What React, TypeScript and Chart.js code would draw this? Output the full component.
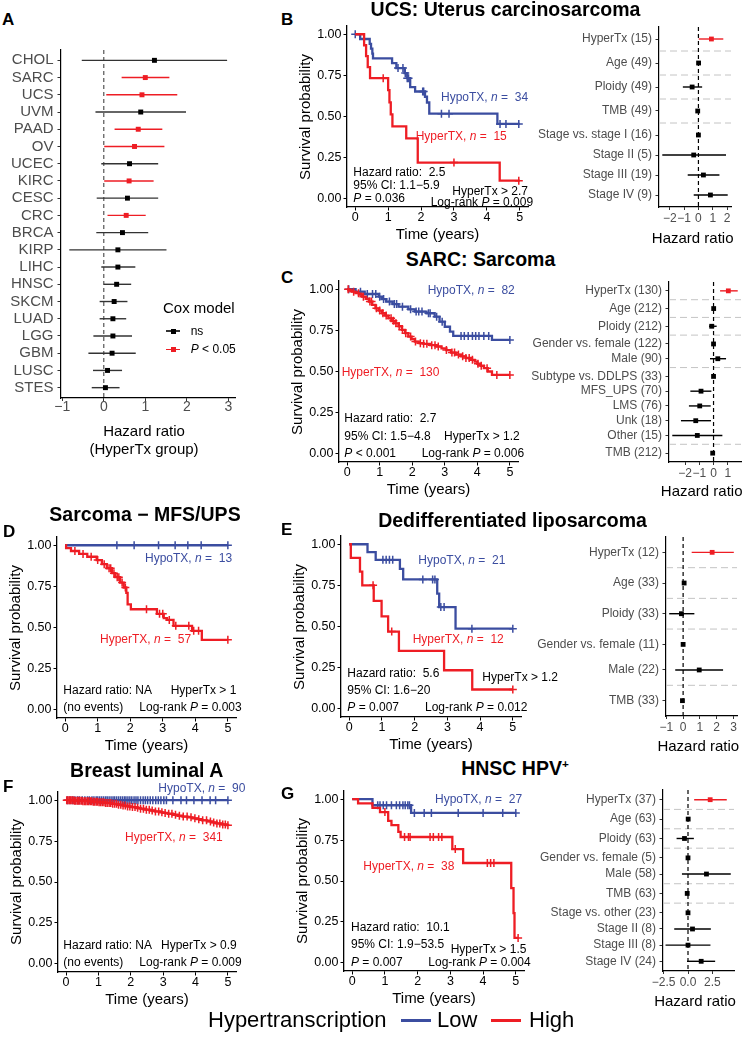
import React, { useEffect, useRef } from "react";
import { Chart, registerables } from "chart.js";

Chart.register(...registerables);

const FONT = "'Liberation Sans', Arial, Helvetica, sans-serif";
const RED = "#EE1D24";
const BLUE = "#3B4DA0";
const AX_TXT = "#4D4D4D";

// ================= Panel A: Cox model per cancer =================
const coxCancers = ["CHOL", "SARC", "UCS", "UVM", "PAAD", "OV", "UCEC", "KIRC", "CESC", "CRC", "BRCA", "KIRP", "LIHC", "HNSC", "SKCM", "LUAD", "LGG", "GBM", "LUSC", "STES"];
const coxHR = [1.22, 1.0, 0.92, 0.89, 0.83, 0.74, 0.62, 0.61, 0.57, 0.54, 0.45, 0.34, 0.34, 0.31, 0.25, 0.22, 0.22, 0.2, 0.09, 0.04];
const coxLow = [-0.53, 0.43, 0.06, -0.2, 0.26, 0.01, -0.06, 0.01, -0.17, 0.09, -0.18, -0.83, -0.06, 0.0, -0.1, -0.1, -0.25, -0.37, -0.26, -0.29];
const coxHigh = [2.97, 1.58, 1.77, 1.98, 1.41, 1.46, 1.31, 1.2, 1.31, 1.01, 1.07, 1.51, 0.76, 0.66, 0.57, 0.54, 0.68, 0.77, 0.44, 0.38];
const coxSignificant = [false, true, true, false, true, true, false, true, false, true, false, false, false, false, false, false, false, false, false, false];
const coxTicks = [-1, 0, 1, 2, 3];

// ================= KM common =================
const kmTimeTicks = [0, 1, 2, 3, 4, 5];
const kmSurvTicks = [0, 0.25, 0.5, 0.75, 1];

// B: UCS
const ucsHypoTime = [0, 0.15, 0.44, 0.48, 0.52, 0.54, 1.12, 1.25, 1.5, 1.58, 1.67, 1.82, 2.12, 2.18, 2.25, 4.32, 5.0];
const ucsHypoSurv = [1, 0.971, 0.941, 0.912, 0.882, 0.853, 0.824, 0.794, 0.764, 0.733, 0.679, 0.652, 0.62, 0.585, 0.517, 0.455, 0.455];
const ucsHypoCensor = [0, 1.3, 1.45, 1.52, 1.58, 1.62, 2.05, 2.08, 2.62, 2.85, 4.4, 4.58, 4.97];
const ucsHyperTime = [0, 0.27, 0.33, 0.38, 0.45, 1.0, 1.04, 1.08, 1.13, 1.55, 1.9, 4.39, 5.0];
const ucsHyperSurv = [1, 0.933, 0.867, 0.8, 0.733, 0.66, 0.586, 0.513, 0.44, 0.367, 0.22, 0.11, 0.11];
const ucsHyperCensor = [0.85, 3.0, 4.97];

// C: SARC
const sarcHypoTime = [0, 0.26, 0.54, 0.97, 1.07, 1.2, 1.4, 1.58, 1.88, 2.08, 2.44, 2.69, 2.84, 3.0, 3.16, 3.26, 4.45, 5.0];
const sarcHypoSurv = [1, 0.985, 0.971, 0.955, 0.94, 0.925, 0.91, 0.894, 0.878, 0.864, 0.854, 0.833, 0.803, 0.772, 0.742, 0.716, 0.692, 0.692];
const sarcHypoCensor = [0.05, 0.41, 0.62, 0.78, 0.88, 1.0, 1.12, 1.3, 1.45, 1.52, 1.7, 1.95, 2.12, 2.2, 2.3, 2.5, 2.55, 2.75, 2.92, 3.5, 3.6, 3.72, 3.85, 3.95, 4.05, 4.2, 4.35, 5.0];
const sarcHyperTime = [0, 0.05, 0.15, 0.26, 0.36, 0.46, 0.57, 0.67, 0.77, 0.87, 0.97, 1.07, 1.17, 1.27, 1.37, 1.48, 1.58, 1.68, 1.78, 1.88, 1.98, 2.08, 2.2, 2.35, 2.55, 2.75, 2.9, 3.05, 3.19, 3.35, 3.5, 3.65, 3.8, 3.92, 4.0, 4.1, 4.2, 4.32, 4.45, 5.0];
const sarcHyperSurv = [1, 0.992, 0.985, 0.976, 0.968, 0.955, 0.942, 0.925, 0.905, 0.884, 0.87, 0.854, 0.84, 0.823, 0.808, 0.793, 0.775, 0.753, 0.733, 0.712, 0.697, 0.682, 0.672, 0.668, 0.66, 0.652, 0.641, 0.63, 0.615, 0.603, 0.592, 0.582, 0.571, 0.56, 0.547, 0.535, 0.52, 0.5, 0.479, 0.479];
const sarcHyperCensor = [0.03, 0.2, 0.35, 0.5, 0.7, 0.75, 0.9, 1.0, 1.1, 1.2, 1.35, 1.42, 1.5, 1.6, 1.7, 1.8, 1.95, 2.1, 2.25, 2.35, 2.45, 2.6, 2.7, 2.8, 3.05, 3.22, 3.3, 3.42, 3.55, 3.65, 3.75, 3.85, 4.02, 4.12, 4.3, 4.6, 5.0];

// D: Sarcoma MFS/UPS
const mfsHypoTime = [0, 5.0];
const mfsHypoSurv = [1, 1];
const mfsHypoCensor = [1.59, 2.12, 2.87, 3.38, 3.77, 4.18, 5.0];
const mfsHyperTime = [0, 0.03, 0.18, 0.43, 0.68, 0.97, 1.13, 1.28, 1.44, 1.54, 1.69, 1.8, 1.88, 1.92, 2.02, 2.82, 3.03, 3.13, 3.33, 3.9, 4.2, 5.0];
const mfsHyperSurv = [1, 0.982, 0.965, 0.947, 0.93, 0.91, 0.885, 0.86, 0.83, 0.806, 0.773, 0.743, 0.71, 0.64, 0.611, 0.583, 0.557, 0.546, 0.51, 0.48, 0.425, 0.425];
const mfsHyperCensor = [0.3, 0.55, 0.8, 1.0, 1.2, 1.35, 1.4, 1.5, 1.6, 1.65, 1.75, 1.85, 2.5, 2.9, 3.0, 3.2, 3.4, 3.8, 3.95, 4.1, 5.0];

// E: Dedifferentiated liposarcoma
const ddlpsHypoTime = [0, 0.56, 0.81, 1.55, 1.65, 2.69, 2.75, 3.25, 5.0];
const ddlpsHypoSurv = [1, 0.952, 0.905, 0.85, 0.786, 0.7, 0.618, 0.487, 0.487];
const ddlpsHypoCensor = [1.03, 1.13, 1.23, 1.33, 2.25, 2.55, 2.62, 2.8, 2.9, 3.75, 5.0];
const ddlpsHyperTime = [0, 0.05, 0.33, 0.4, 0.75, 0.99, 1.19, 1.52, 2.9, 3.76, 5.0];
const ddlpsHyperSurv = [1, 0.917, 0.833, 0.75, 0.656, 0.562, 0.469, 0.352, 0.234, 0.117, 0.117];
const ddlpsHyperCensor = [0.73, 1.3, 5.0];

// F: Breast luminal A
const lumaHypoTime = [0, 5.0];
const lumaHypoSurv = [1, 1];
const lumaHypoCensor = [0.04, 0.12, 0.2, 0.27, 0.35, 0.41, 0.5, 0.58, 0.66, 0.72, 0.8, 0.86, 0.93, 0.98, 1.04, 1.1, 1.16, 1.22, 1.27, 1.33, 1.39, 1.45, 1.5, 1.56, 1.62, 1.68, 1.74, 1.8, 1.85, 1.91, 1.97, 2.03, 2.1, 2.16, 2.22, 2.3, 2.38, 2.45, 2.52, 2.6, 2.68, 2.77, 2.85, 2.93, 3.02, 3.1, 3.3, 3.55, 3.72, 3.95, 4.2, 4.45, 4.62, 5.0];
const lumaHyperTime = [0, 0.25, 0.5, 0.8, 1.0, 1.2, 1.4, 1.6, 1.75, 1.9, 2.0, 2.15, 2.3, 2.45, 2.6, 2.75, 2.9, 3.0, 3.15, 3.3, 3.45, 3.6, 3.75, 3.9, 4.05, 4.2, 4.35, 4.5, 4.65, 4.8, 4.95, 5.0];
const lumaHyperSurv = [1, 0.997, 0.994, 0.99, 0.987, 0.983, 0.978, 0.972, 0.967, 0.962, 0.958, 0.953, 0.948, 0.942, 0.937, 0.931, 0.926, 0.922, 0.917, 0.911, 0.905, 0.9, 0.895, 0.889, 0.884, 0.877, 0.87, 0.864, 0.858, 0.852, 0.847, 0.847];
const lumaHyperCensor = [0.02, 0.06, 0.1, 0.14, 0.18, 0.22, 0.26, 0.3, 0.35, 0.39, 0.43, 0.48, 0.52, 0.57, 0.61, 0.66, 0.7, 0.75, 0.79, 0.84, 0.88, 0.93, 0.97, 1.02, 1.07, 1.12, 1.17, 1.22, 1.27, 1.33, 1.38, 1.44, 1.5, 1.56, 1.62, 1.69, 1.76, 1.83, 1.9, 1.97, 2.05, 2.13, 2.21, 2.3, 2.39, 2.48, 2.57, 2.66, 2.76, 2.86, 2.96, 3.06, 3.17, 3.27, 3.38, 3.5, 3.62, 3.74, 3.86, 3.98, 4.1, 4.22, 4.34, 4.46, 4.56, 4.66, 4.75, 4.84, 4.92, 5.0];

// G: HNSC HPV+
const hpvHypoTime = [0, 0.62, 1.8, 5.0];
const hpvHypoSurv = [1, 0.963, 0.916, 0.916];
const hpvHypoCensor = [0.78, 0.85, 0.95, 1.05, 1.2, 1.35, 1.45, 1.55, 1.62, 1.7, 1.75, 1.9, 2.2, 2.42, 3.24, 4.0, 4.6, 5.0];
const hpvHyperTime = [0, 0.18, 0.62, 0.85, 1.1, 1.2, 1.41, 1.48, 3.06, 3.39, 4.86, 4.93, 4.96, 5.07];
const hpvHyperSurv = [1, 0.974, 0.947, 0.921, 0.868, 0.842, 0.8, 0.769, 0.695, 0.61, 0.457, 0.304, 0.152, 0.152];
const hpvHyperCensor = [1.0, 1.6, 1.72, 1.77, 2.38, 2.48, 2.64, 2.74, 3.15, 4.13, 4.23, 4.33, 5.07];

// ================= Multivariate forest plots =================
const ucsCovLabels = ["HyperTx (15)", "Age (49)", "Ploidy (49)", "TMB (49)", "Stage vs. stage I (16)", "Stage II (5)", "Stage III (19)", "Stage IV (9)"];
const ucsCovGroup = [0, 1, 2, 3, 4, 4, 4, 4];
const ucsCovHR = [0.91, 0.01, -0.44, -0.05, 0, -0.33, 0.35, 0.84];
const ucsCovLow = [0.02, -0.03, -1.09, -0.1, 0, -2.53, -0.75, -0.33];
const ucsCovHigh = [1.74, 0.05, 0.26, 0.02, 0, 1.93, 1.47, 2.05];
const ucsCovTicks = [-2, -1, 0, 1, 2];

const sarcCovLabels = ["HyperTx (130)", "Age (212)", "Ploidy (212)", "Gender vs. female (122)", "Male (90)", "Subtype vs. DDLPS (33)", "MFS_UPS (70)", "LMS (76)", "Unk (18)", "Other (15)", "TMB (212)"];
const sarcCovGroup = [0, 1, 2, 3, 3, 4, 4, 4, 4, 4, 5];
const sarcCovHR = [1.04, 0.01, -0.13, 0, 0.3, 0, -0.88, -0.97, -1.25, -1.14, -0.06];
const sarcCovLow = [0.46, -0.02, -0.32, 0, -0.25, 0, -1.63, -1.73, -2.29, -2.9, -0.1];
const sarcCovHigh = [1.7, 0.04, 0.22, 0, 0.88, 0, -0.15, -0.2, -0.18, 0.62, -0.02];
const sarcCovTicks = [-2, -1, 0, 1];

const ddlpsCovLabels = ["HyperTx (12)", "Age (33)", "Ploidy (33)", "Gender vs. female (11)", "Male (22)", "TMB (33)"];
const ddlpsCovGroup = [0, 1, 2, 3, 3, 4];
const ddlpsCovHR = [1.73, 0.06, -0.1, 0, 0.96, -0.04];
const ddlpsCovLow = [0.51, 0.0, -0.83, 0, -0.47, -0.1];
const ddlpsCovHigh = [3.02, 0.1, 0.67, 0, 2.38, 0.02];
const ddlpsCovTicks = [-1, 0, 1, 2, 3];

const hpvCovLabels = ["HyperTx (37)", "Age (63)", "Ploidy (63)", "Gender vs. female (5)", "Male (58)", "TMB (63)", "Stage vs. other (23)", "Stage II (8)", "Stage III (8)", "Stage IV (24)"];
const hpvCovGroup = [0, 1, 2, 3, 3, 4, 5, 5, 5, 5];
const hpvCovHR = [2.27, 0.02, -0.36, 0, 1.89, -0.08, 0, 0.46, 0.0, 1.35];
const hpvCovLow = [0.63, -0.05, -1.17, 0, -0.62, -0.15, 0, -1.41, -2.3, -0.1];
const hpvCovHigh = [3.97, 0.08, 0.6, 0, 4.38, 0.0, 0, 2.34, 2.3, 2.78];
const hpvCovTicks = [-2.5, 0, 2.5];

// ================= helpers =================
function fmtTick(v: number, dec: number) {
  const s = Math.abs(v).toFixed(dec);
  return v < 0 ? "\u2212" + s : s;
}

function stepPts(T: number[], S: number[]) {
  return T.map((t, i) => ({ x: t, y: S[i] }));
}
function survAt(T: number[], S: number[], t: number) {
  let s = S[0];
  for (let i = 0; i < T.length; i++) if (T[i] <= t) s = S[i];
  return s;
}
function censorPts(T: number[], S: number[], C: number[]) {
  return C.map((t) => ({ x: t, y: survAt(T, S, t) }));
}

function linAxis(a: any) {
  return {
    type: "linear",
    min: a.min,
    max: a.max,
    reverse: !!a.reverse,
    afterBuildTicks: (s: any) => {
      s.ticks = a.ticks.map((v: number) => ({ value: v }));
    },
    ticks: {
      callback: (v: any, i: number) => a.fmt(v, i),
      font: { family: FONT, size: a.size, lineHeight: 1 },
      color: a.color,
      padding: a.pad,
      autoSkip: false,
      maxRotation: 0,
      minRotation: 0,
    },
    grid: { display: true, drawOnChartArea: false, drawTicks: true, tickLength: a.tickLen ?? 3.5, color: a.tickColor, lineWidth: 1 },
    border: { display: true, color: "#000", width: a.borderW ?? 1.2 },
  };
}

function baseOptions(x: any, y: any) {
  return {
    animation: false,
    responsive: false,
    maintainAspectRatio: false,
    devicePixelRatio: 1,
    events: [],
    plugins: { legend: { display: false }, tooltip: { enabled: false }, title: { display: false } },
    scales: { x, y },
  };
}

function rowPositions(groups: number[]) {
  const pos: number[] = [];
  groups.forEach((g, i) => {
    if (i === 0) pos.push(0);
    else pos.push(pos[i - 1] + (g === groups[i - 1] ? 1 : 1.2));
  });
  return pos;
}
function groupSeparators(groups: number[], pos: number[]) {
  const s: number[] = [];
  for (let i = 1; i < groups.length; i++) if (groups[i] !== groups[i - 1]) s.push((pos[i - 1] + pos[i]) / 2);
  return s;
}

function forestConfig(f: any) {
  const ds: any[] = [];
  ds.push({
    data: f.hr.map((v: number, i: number) => ({ x: v, y: f.pos[i] })),
    showLine: false,
    pointStyle: "rect",
    pointRadius: f.ptR,
    backgroundColor: f.colors,
    borderColor: f.colors,
    borderWidth: 0,
    order: 0,
  });
  f.hr.forEach((_: number, i: number) => {
    if (f.hi[i] > f.lo[i])
      ds.push({
        data: [
          { x: f.lo[i], y: f.pos[i] },
          { x: f.hi[i], y: f.pos[i] },
        ],
        showLine: true,
        borderColor: f.ciColors[i],
        borderWidth: f.ciW,
        pointRadius: 0,
        order: 1,
      });
  });
  ds.push({
    data: [
      { x: 0, y: f.ymin },
      { x: 0, y: f.ymax },
    ],
    showLine: true,
    borderColor: f.zeroColor,
    borderWidth: 1.2,
    borderDash: [4, 3],
    pointRadius: 0,
    order: 2,
  });
  f.seps.forEach((s: number) =>
    ds.push({
      data: [
        { x: f.xmin, y: s },
        { x: f.xmax, y: s },
      ],
      showLine: true,
      borderColor: "#C4C4C4",
      borderWidth: 1,
      borderDash: [7, 4],
      pointRadius: 0,
      order: 3,
    })
  );
  const x = linAxis({ min: f.xmin, max: f.xmax, ticks: f.xticks, fmt: (v: number) => fmtTick(v, f.dec), size: f.tickSize, color: AX_TXT, tickColor: "#333", pad: f.xPad, tickLen: 3 });
  const y = linAxis({ min: f.ymin, max: f.ymax, reverse: true, ticks: f.pos, fmt: (_v: number, i: number) => f.labels[i], size: f.labelSize, color: AX_TXT, tickColor: "#333", pad: f.yPad, tickLen: 3.5 });
  return { type: "scatter", data: { datasets: ds }, options: baseOptions(x, y) };
}

function covForest(labels: string[], groups: number[], hr: number[], lo: number[], hi: number[], xmin: number, xmax: number, xticks: number[], dec: number) {
  const pos = rowPositions(groups);
  const colors = labels.map((_, i) => (i === 0 ? RED : "#000"));
  return () =>
    forestConfig({
      labels,
      pos,
      hr,
      lo,
      hi,
      colors,
      ciColors: colors,
      xmin,
      xmax,
      ymin: -0.6,
      ymax: pos[pos.length - 1] + 0.6,
      seps: groupSeparators(groups, pos),
      xticks,
      dec,
      zeroColor: "#000",
      labelSize: 12,
      tickSize: 12,
      xPad: 2.7,
      yPad: 3.5,
      ptR: 3.4,
      ciW: 1.4,
    });
}

function coxConfig() {
  const pos = coxCancers.map((_, i) => i);
  const colors = coxSignificant.map((s) => (s ? RED : "#000"));
  const ciColors = coxSignificant.map((s) => (s ? RED : "#333"));
  return forestConfig({
    labels: coxCancers,
    pos,
    hr: coxHR,
    lo: coxLow,
    hi: coxHigh,
    colors,
    ciColors,
    xmin: -1.03,
    xmax: 3.16,
    ymin: -0.6,
    ymax: pos.length - 1 + 0.6,
    seps: [],
    xticks: coxTicks,
    dec: 0,
    zeroColor: "#555",
    labelSize: 15,
    tickSize: 14,
    xPad: -0.5,
    yPad: 4,
    ptR: 3.5,
    ciW: 1.4,
  });
}

function kmConfig(hypoT: number[], hypoS: number[], hypoC: number[], hyperT: number[], hyperS: number[], hyperC: number[]) {
  return () => {
    const ds = [
      { data: censorPts(hyperT, hyperS, hyperC), showLine: false, pointStyle: "cross", pointRadius: 4, borderColor: RED, backgroundColor: RED, borderWidth: 1.5, order: 0 },
      { data: stepPts(hyperT, hyperS), showLine: true, stepped: "before", borderColor: RED, borderWidth: 2.3, pointRadius: 0, order: 1 },
      { data: censorPts(hypoT, hypoS, hypoC), showLine: false, pointStyle: "cross", pointRadius: 4, borderColor: BLUE, backgroundColor: BLUE, borderWidth: 1.5, order: 2 },
      { data: stepPts(hypoT, hypoS), showLine: true, stepped: "before", borderColor: BLUE, borderWidth: 2.3, pointRadius: 0, order: 3 },
    ];
    const x = linAxis({ min: -0.25, max: 5.25, ticks: kmTimeTicks, fmt: (v: number) => String(v), size: 12.5, color: "#000", tickColor: "#000", pad: 1.25, borderW: 1.3 });
    const y = linAxis({ min: -0.05, max: 1.05, ticks: kmSurvTicks, fmt: (v: number) => v.toFixed(2), size: 12.5, color: "#000", tickColor: "#000", pad: 2, borderW: 1.3 });
    return { type: "scatter", data: { datasets: ds }, options: baseOptions(x, y) };
  };
}

type Area = { l: number; t: number; r: number; b: number };

function ChartBox({ area, yw, xh, padT, padR, config }: { area: Area; yw: number; xh: number; padT: number; padR: number; config: () => any }) {
  const ref = useRef<HTMLCanvasElement | null>(null);
  const L = Math.round(area.l), Tp = Math.round(area.t), R = Math.round(area.r), B = Math.round(area.b);
  const left = L - yw;
  const top = Tp - padT;
  const w = R - L + yw + padR;
  const h = B - Tp + padT + xh;
  useEffect(() => {
    const cfg = config();
    const o = cfg.options;
    o.layout = { autoPadding: false, padding: { left: 0, top: padT, right: padR, bottom: 0 } };
    o.scales.x.afterFit = (s: any) => {
      s.height = xh;
      s.paddingLeft = 0;
      s.paddingRight = 0;
      s.paddingTop = 0;
      s.paddingBottom = 0;
    };
    o.scales.y.afterFit = (s: any) => {
      s.width = yw;
      s.paddingLeft = 0;
      s.paddingRight = 0;
      s.paddingTop = 0;
      s.paddingBottom = 0;
    };
    const chart = new Chart(ref.current as HTMLCanvasElement, cfg);
    return () => chart.destroy();
  }, []);
  return <canvas ref={ref} width={w} height={h} style={{ position: "absolute", left, top, width: w, height: h }} />;
}

function Tx({ x, y, a = "l", s = 12, b = false, c = "#000", rot = false, children }: any) {
  const tx = a === "l" ? "0" : a === "c" ? "-50%" : "-100%";
  return (
    <div
      style={{
        position: "absolute",
        left: x,
        top: y,
        transform: `translate(${tx},-50%)${rot ? " rotate(-90deg)" : ""}`,
        fontFamily: FONT,
        fontSize: s,
        fontWeight: b ? "bold" : "normal",
        color: c,
        whiteSpace: "pre",
        lineHeight: 1,
      }}
    >
      {children}
    </div>
  );
}

const I = ({ children }: any) => <i>{children}</i>;

function KMText({ area, hypo, hyper, stats }: any) {
  const cx = (area.l + area.r) / 2;
  const cy = (area.t + area.b) / 2;
  return (
    <>
      <Tx x={area.l - 43} y={cy} a="c" s={15} rot>
        Survival probability
      </Tx>
      <Tx x={cx} y={area.b + 26} a="c" s={15}>
        Time (years)
      </Tx>
      <Tx x={hypo.x} y={hypo.y} s={12} c={BLUE}>
        HypoTX, <I>n</I> =  {hypo.n}
      </Tx>
      <Tx x={hyper.x} y={hyper.y} s={12} c={RED}>
        HyperTX, <I>n</I> =  {hyper.n}
      </Tx>
      {stats.map((st: any, i: number) => (
        <Tx key={i} x={st.x} y={st.y} s={12}>
          {st.t}
        </Tx>
      ))}
    </>
  );
}

// layout areas (page pixels)
const areaA: Area = { l: 61, t: 50, r: 235, b: 398 };
const areaB: Area = { l: 347, t: 26, r: 528, b: 207 };
const areaBf: Area = { l: 659, t: 27, r: 731, b: 207 };
const areaC: Area = { l: 339, t: 281, r: 518, b: 462 };
const areaCf: Area = { l: 669, t: 282, r: 741, b: 462 };
const areaD: Area = { l: 57, t: 537, r: 236, b: 718 };
const areaE: Area = { l: 341, t: 536, r: 521, b: 717 };
const areaEf: Area = { l: 666, t: 537, r: 737, b: 716 };
const areaF: Area = { l: 58, t: 792, r: 236, b: 972 };
const areaG: Area = { l: 344, t: 791, r: 524, b: 971 };
const areaGf: Area = { l: 663, t: 790, r: 734, b: 971 };

export default function App() {
  return (
    <div style={{ position: "absolute", left: 0, top: 0, width: 750, height: 1058, background: "#fff", overflow: "hidden", fontFamily: FONT }}>
      {/* charts */}
      <ChartBox area={areaA} yw={61} xh={30} padT={10} padR={15} config={coxConfig} />
      <ChartBox area={areaB} yw={45} xh={28} padT={8} padR={12} config={kmConfig(ucsHypoTime, ucsHypoSurv, ucsHypoCensor, ucsHyperTime, ucsHyperSurv, ucsHyperCensor)} />
      <ChartBox area={areaBf} yw={150} xh={24} padT={6} padR={12} config={covForest(ucsCovLabels, ucsCovGroup, ucsCovHR, ucsCovLow, ucsCovHigh, -2.76, 2.28, ucsCovTicks, 0)} />
      <ChartBox area={areaC} yw={45} xh={28} padT={8} padR={12} config={kmConfig(sarcHypoTime, sarcHypoSurv, sarcHypoCensor, sarcHyperTime, sarcHyperSurv, sarcHyperCensor)} />
      <ChartBox area={areaCf} yw={150} xh={24} padT={6} padR={8} config={covForest(sarcCovLabels, sarcCovGroup, sarcCovHR, sarcCovLow, sarcCovHigh, -3.13, 1.93, sarcCovTicks, 0)} />
      <ChartBox area={areaD} yw={45} xh={28} padT={8} padR={12} config={kmConfig(mfsHypoTime, mfsHypoSurv, mfsHypoCensor, mfsHyperTime, mfsHyperSurv, mfsHyperCensor)} />
      <ChartBox area={areaE} yw={45} xh={28} padT={8} padR={12} config={kmConfig(ddlpsHypoTime, ddlpsHypoSurv, ddlpsHypoCensor, ddlpsHyperTime, ddlpsHyperSurv, ddlpsHyperCensor)} />
      <ChartBox area={areaEf} yw={150} xh={24} padT={6} padR={10} config={covForest(ddlpsCovLabels, ddlpsCovGroup, ddlpsCovHR, ddlpsCovLow, ddlpsCovHigh, -1.02, 3.21, ddlpsCovTicks, 0)} />
      <ChartBox area={areaF} yw={45} xh={28} padT={8} padR={12} config={kmConfig(lumaHypoTime, lumaHypoSurv, lumaHypoCensor, lumaHyperTime, lumaHyperSurv, lumaHyperCensor)} />
      <ChartBox area={areaG} yw={45} xh={28} padT={8} padR={12} config={kmConfig(hpvHypoTime, hpvHypoSurv, hpvHypoCensor, hpvHyperTime, hpvHyperSurv, hpvHyperCensor)} />
      <ChartBox area={areaGf} yw={150} xh={24} padT={6} padR={12} config={covForest(hpvCovLabels, hpvCovGroup, hpvCovHR, hpvCovLow, hpvCovHigh, -2.56, 4.71, hpvCovTicks, 1)} />

      {/* panel letters */}
      <Tx x={2} y={19} s={17} b>A</Tx>
      <Tx x={281} y={19} s={17} b>B</Tx>
      <Tx x={281} y={277} s={17} b>C</Tx>
      <Tx x={3} y={531} s={17} b>D</Tx>
      <Tx x={281} y={529} s={17} b>E</Tx>
      <Tx x={3} y={786} s={17} b>F</Tx>
      <Tx x={281} y={793} s={17} b>G</Tx>

      {/* titles */}
      <Tx x={505.5} y={10} a="c" s={19.5} b>UCS: Uterus carcinosarcoma</Tx>
      <Tx x={480.5} y={260} a="c" s={19.5} b>SARC: Sarcoma</Tx>
      <Tx x={145} y={515} a="c" s={19.5} b>Sarcoma − MFS/UPS</Tx>
      <Tx x={512.5} y={521} a="c" s={19.5} b>Dedifferentiated liposarcoma</Tx>
      <Tx x={146.7} y={770.5} a="c" s={19.5} b>Breast luminal A</Tx>
      <Tx x={515} y={769} a="c" s={19.5} b>
        HNSC HPV<sup style={{ fontSize: "60%", verticalAlign: "super", lineHeight: 0 }}>+</sup>
      </Tx>

      {/* Panel A texts */}
      <Tx x={144} y={430} a="c" s={15}>Hazard ratio</Tx>
      <Tx x={144} y={448} a="c" s={15}>(HyperTx group)</Tx>
      <Tx x={163} y={307} s={15}>Cox model</Tx>
      <div style={{ position: "absolute", left: 166, top: 330.4, width: 14, height: 1.3, background: "#333" }} />
      <div style={{ position: "absolute", left: 170.5, top: 328.5, width: 5, height: 5, background: "#000" }} />
      <Tx x={190.7} y={331} s={12}>ns</Tx>
      <div style={{ position: "absolute", left: 166, top: 348.7, width: 14, height: 1.3, background: RED }} />
      <div style={{ position: "absolute", left: 170.5, top: 346.8, width: 5, height: 5, background: RED }} />
      <Tx x={190.7} y={349.3} s={12}>
        <I>P</I> &lt; 0.05
      </Tx>

      {/* forest axis titles */}
      <Tx x={692.7} y={236.7} a="c" s={15}>Hazard ratio</Tx>
      <Tx x={701.7} y={490} a="c" s={15}>Hazard ratio</Tx>
      <Tx x={698.3} y={745} a="c" s={15}>Hazard ratio</Tx>
      <Tx x={695} y={1000} a="c" s={15}>Hazard ratio</Tx>

      {/* KM texts */}
      <KMText
        area={areaB}
        hypo={{ x: 441, y: 96.7, n: 34 }}
        hyper={{ x: 415.7, y: 136, n: 15 }}
        stats={[
          { x: 353.3, y: 172.3, t: "Hazard ratio:  2.5" },
          { x: 353.3, y: 185, t: "95% CI: 1.1−5.9" },
          { x: 353.3, y: 198, t: <><I>P</I> = 0.036</> },
          { x: 452.3, y: 190.7, t: "HyperTx > 2.7" },
          { x: 430.7, y: 201.5, t: <>Log-rank <I>P</I> = 0.009</> },
        ]}
      />
      <KMText
        area={areaC}
        hypo={{ x: 427.7, y: 290, n: 82 }}
        hyper={{ x: 341.7, y: 371.7, n: 130 }}
        stats={[
          { x: 344.3, y: 417.7, t: "Hazard ratio:  2.7" },
          { x: 344.3, y: 435.7, t: "95% CI: 1.5−4.8" },
          { x: 344.3, y: 453, t: <><I>P</I> &lt; 0.001</> },
          { x: 444, y: 435.7, t: "HyperTx > 1.2" },
          { x: 421.7, y: 453, t: <>Log-rank <I>P</I> = 0.006</> },
        ]}
      />
      <KMText
        area={areaD}
        hypo={{ x: 145, y: 558.3, n: 13 }}
        hyper={{ x: 100, y: 639.3, n: 57 }}
        stats={[
          { x: 63.3, y: 690, t: "Hazard ratio: NA" },
          { x: 170.7, y: 690, t: "HyperTx > 1" },
          { x: 63.3, y: 706.7, t: "(no events)" },
          { x: 139.3, y: 706.7, t: <>Log-rank <I>P</I> = 0.003</> },
        ]}
      />
      <KMText
        area={areaE}
        hypo={{ x: 418.3, y: 560, n: 21 }}
        hyper={{ x: 412.7, y: 639.3, n: 12 }}
        stats={[
          { x: 347.3, y: 672.7, t: "Hazard ratio:  5.6" },
          { x: 347.3, y: 690, t: "95% CI: 1.6−20" },
          { x: 347.3, y: 706.7, t: <><I>P</I> = 0.007</> },
          { x: 482.3, y: 676.7, t: "HyperTx > 1.2" },
          { x: 425, y: 706.7, t: <>Log-rank <I>P</I> = 0.012</> },
        ]}
      />
      <KMText
        area={areaF}
        hypo={{ x: 158.3, y: 788.3, n: 90 }}
        hyper={{ x: 125, y: 836.7, n: 341 }}
        stats={[
          { x: 63.3, y: 945, t: "Hazard ratio: NA" },
          { x: 161, y: 945, t: "HyperTx > 0.9" },
          { x: 63.3, y: 962.3, t: "(no events)" },
          { x: 139.3, y: 962.3, t: <>Log-rank <I>P</I> = 0.009</> },
        ]}
      />
      <KMText
        area={areaG}
        hypo={{ x: 435, y: 799, n: 27 }}
        hyper={{ x: 363.3, y: 865.7, n: 38 }}
        stats={[
          { x: 351, y: 927, t: "Hazard ratio:  10.1" },
          { x: 351, y: 944.3, t: "95% CI: 1.9−53.5" },
          { x: 351, y: 962.3, t: <><I>P</I> = 0.007</> },
          { x: 450.7, y: 949, t: "HyperTx > 1.5" },
          { x: 428.3, y: 962.3, t: <>Log-rank <I>P</I> = 0.004</> },
        ]}
      />

      {/* bottom legend */}
      <Tx x={208} y={1020} s={22}>Hypertranscription</Tx>
      <div style={{ position: "absolute", left: 401, top: 1019, width: 30, height: 2.5, background: BLUE }} />
      <Tx x={437} y={1020} s={22}>Low</Tx>
      <div style={{ position: "absolute", left: 491, top: 1019, width: 30, height: 2.5, background: RED }} />
      <Tx x={529} y={1020} s={22}>High</Tx>
    </div>
  );
}
